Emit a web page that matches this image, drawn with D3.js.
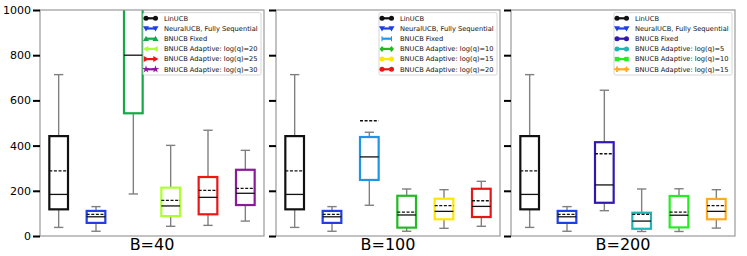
<!DOCTYPE html>
<html>
<head>
<meta charset="utf-8">
<script src="https://cdn.jsdelivr.net/npm/d3@7"></script>
<style>
html,body{margin:0;padding:0;background:#fff;}
svg{display:block;}
text{font-family:"DejaVu Sans",sans-serif;}
</style>
</head>
<body>
<svg id="chart" width="747" height="256"></svg>
<script>
// ---------- data ----------
const panelTitles = ["B=40", "B=100", "B=200"];
const yTicks = [0, 200, 400, 600, 800, 1000];

const labels40 = ["LinUCB", "NeuralUCB, Fully Sequential", "BNUCB Fixed",
  "BNUCB Adaptive: log(q)=20", "BNUCB Adaptive: log(q)=25", "BNUCB Adaptive: log(q)=30"];
const labels100 = ["LinUCB", "NeuralUCB, Fully Sequential", "BNUCB Fixed",
  "BNUCB Adaptive: log(q)=10", "BNUCB Adaptive: log(q)=15", "BNUCB Adaptive: log(q)=20"];
const labels200 = ["LinUCB", "NeuralUCB, Fully Sequential", "BNUCB Fixed",
  "BNUCB Adaptive: log(q)=5", "BNUCB Adaptive: log(q)=10", "BNUCB Adaptive: log(q)=15"];

const colors40 = ["#111111", "#1f3fe6", "#14a84a", "#adff2f", "#ee1515", "#8b1a99"];
const colors100 = ["#111111", "#1f3fe6", "#1e96e6", "#22bb22", "#ffe600", "#e51818"];
const colors200 = ["#111111", "#1f3fe6", "#3318b0", "#22b5b5", "#22ee22", "#ffaa22"];

const markers40 = ["circle", "tdown", "tup", "tleft", "tright", "star"];
const markers100 = ["circle", "tdown", "vline", "diamond", "hex", "circle"];
const markers200 = ["circle", "tdown", "circle", "hex", "square", "plus"];

// [whisker low, Q1, median, mean, Q3, whisker high]
const stats40 = [
  [38, 118, 184, 288, 442, 714],
  [21, 58, 85, 96, 111, 130],
  [186, 543, 800, 1060, 1200, 1500],
  [43, 88, 133, 158, 214, 401],
  [47, 96, 171, 202, 261, 468],
  [66, 137, 189, 211, 293, 379]
];
const stats100 = [
  [38, 118, 184, 288, 442, 714],
  [21, 58, 85, 96, 111, 130],
  [136, 248, 350, 510, 438, 459],
  [21, 37, 93, 106, 178, 208],
  [34, 74, 109, 134, 165, 205],
  [43, 84, 131, 156, 209, 242]
];
const stats200 = [
  [38, 118, 184, 288, 442, 714],
  [21, 58, 85, 96, 111, 130],
  [112, 147, 226, 364, 415, 645],
  [20, 32, 66, 96, 103, 208],
  [20, 38, 92, 106, 177, 209],
  [35, 74, 109, 134, 164, 205]
];

const panels = [
  {title: panelTitles[0], labels: labels40, colors: colors40, markers: markers40, stats: stats40, x0: 40, x1: 264},
  {title: panelTitles[1], labels: labels100, colors: colors100, markers: markers100, stats: stats100, x0: 276, x1: 500},
  {title: panelTitles[2], labels: labels200, colors: colors200, markers: markers200, stats: stats200, x0: 511, x1: 735}
];

// ---------- drawing ----------
const svg = d3.select("#chart");
const yTop = 10, yBot = 236;
const y = d3.scaleLinear().domain([0, 1000]).range([yBot, yTop]);

function markerPath(kind, size) {
  const s = size;
  switch (kind) {
    case "circle": return d3.symbol(d3.symbolCircle, s * s * 0.8)();
    case "tup": return `M0,${-s*0.6}L${s*0.6},${s*0.45}L${-s*0.6},${s*0.45}Z`;
    case "tdown": return `M0,${s*0.6}L${s*0.6},${-s*0.45}L${-s*0.6},${-s*0.45}Z`;
    case "tleft": return `M${-s*0.6},0L${s*0.45},${-s*0.6}L${s*0.45},${s*0.6}Z`;
    case "tright": return `M${s*0.6},0L${-s*0.45},${-s*0.6}L${-s*0.45},${s*0.6}Z`;
    case "star": return d3.symbol(d3.symbolStar, s * s * 0.7)();
    case "diamond": return `M0,${-s*0.6}L${s*0.5},0L0,${s*0.6}L${-s*0.5},0Z`;
    case "hex": return d3.symbol(d3.symbolCircle, s * s * 0.8)();
    case "square": return `M${-s*0.45},${-s*0.45}h${s*0.9}v${s*0.9}h${-s*0.9}Z`;
    case "plus": return d3.symbol(d3.symbolCross, s * s * 0.7)();
    case "vline": return `M-0.5,${-s*0.5}h1v${s}h-1Z`;
  }
  return "";
}

panels.forEach((p, pi) => {
  const x = d3.scaleLinear().domain([0.5, 6.5]).range([p.x0, p.x1]);
  const g = svg.append("g");
  const clipId = "clip" + pi;
  svg.append("clipPath").attr("id", clipId).append("rect")
    .attr("x", p.x0).attr("y", yTop).attr("width", p.x1 - p.x0).attr("height", yBot - yTop);

  const plot = g.append("g").attr("clip-path", `url(#${clipId})`);
  const boxW = x(1.25) - x(1);
  const capW = x(1.125) - x(1);

  p.stats.forEach((s, i) => {
    const cx = x(i + 1);
    const [lo, q1, med, mean, q3, hi] = s;
    const col = p.colors[i];
    const b = plot.append("g");
    // whiskers
    b.append("line").attr("x1", cx).attr("x2", cx).attr("y1", y(q3)).attr("y2", y(hi))
      .attr("stroke", "#808080").attr("stroke-width", 1.4);
    b.append("line").attr("x1", cx).attr("x2", cx).attr("y1", y(q1)).attr("y2", y(lo))
      .attr("stroke", "#808080").attr("stroke-width", 1.4);
    // caps
    [lo, hi].forEach(v => {
      b.append("line").attr("x1", cx - capW).attr("x2", cx + capW).attr("y1", y(v)).attr("y2", y(v))
        .attr("stroke", "#808080").attr("stroke-width", 1.4);
    });
    // box
    b.append("rect").attr("x", cx - boxW).attr("y", y(q3)).attr("width", boxW * 2)
      .attr("height", y(q1) - y(q3)).attr("fill", "#fff").attr("stroke", col).attr("stroke-width", 2.2);
    // median
    b.append("line").attr("x1", cx - boxW).attr("x2", cx + boxW).attr("y1", y(med)).attr("y2", y(med))
      .attr("stroke", "#111").attr("stroke-width", 1.3);
    // mean
    b.append("line").attr("x1", cx - boxW).attr("x2", cx + boxW).attr("y1", y(mean)).attr("y2", y(mean))
      .attr("stroke", "#111").attr("stroke-width", 1.3).attr("stroke-dasharray", "3,1.6");
  });

  // spines
  g.append("rect").attr("x", p.x0).attr("y", yTop).attr("width", p.x1 - p.x0).attr("height", yBot - yTop)
    .attr("fill", "none").attr("stroke", "#999").attr("stroke-width", 1.2);

  // y ticks
  const axis = d3.axisLeft(y).tickValues(yTicks).tickSize(7).tickPadding(2)
    .tickFormat(pi === 0 ? d3.format("d") : () => "");
  const ag = g.append("g").attr("transform", `translate(${p.x0},0)`).call(axis);
  ag.select(".domain").remove();
  ag.selectAll(".tick line").attr("stroke", "#000").attr("stroke-width", 2);
  ag.selectAll(".tick text").attr("font-size", 11).attr("fill", "#000")
    .attr("font-family", "DejaVu Sans, sans-serif");

  // title below
  g.append("text").attr("x", (p.x0 + p.x1) / 2).attr("y", 250).attr("text-anchor", "middle")
    .attr("font-size", 16).attr("fill", "#000").text(p.title);

  // legend
  const lw = 118, lh = 62.3;
  const lx = p.x1 - 3 - lw, ly = 12.7;
  const lg = g.append("g");
  lg.append("rect").attr("x", lx).attr("y", ly).attr("width", lw).attr("height", lh)
    .attr("rx", 1.5).attr("fill", "#fff").attr("fill-opacity", 0.85)
    .attr("stroke", "#cccccc").attr("stroke-width", 0.8);
  p.labels.forEach((lab, i) => {
    const ry = ly + 5.6 + i * 10.2;
    const hx0 = lx + 3, hx1 = lx + 12.5;
    lg.append("line").attr("x1", hx0).attr("x2", hx1).attr("y1", ry).attr("y2", ry)
      .attr("stroke", p.colors[i]).attr("stroke-width", 2.2);
    [hx0, hx1].forEach(mx => {
      lg.append("path").attr("d", markerPath(p.markers[i], 5))
        .attr("transform", `translate(${mx},${ry})`).attr("fill", p.colors[i]);
    });
    lg.append("text").attr("x", lx + 21).attr("y", ry).attr("dy", "0.35em")
      .attr("font-size", 6.7).attr("fill", "#111").text(lab);
  });
});
</script>
</body>
</html>
